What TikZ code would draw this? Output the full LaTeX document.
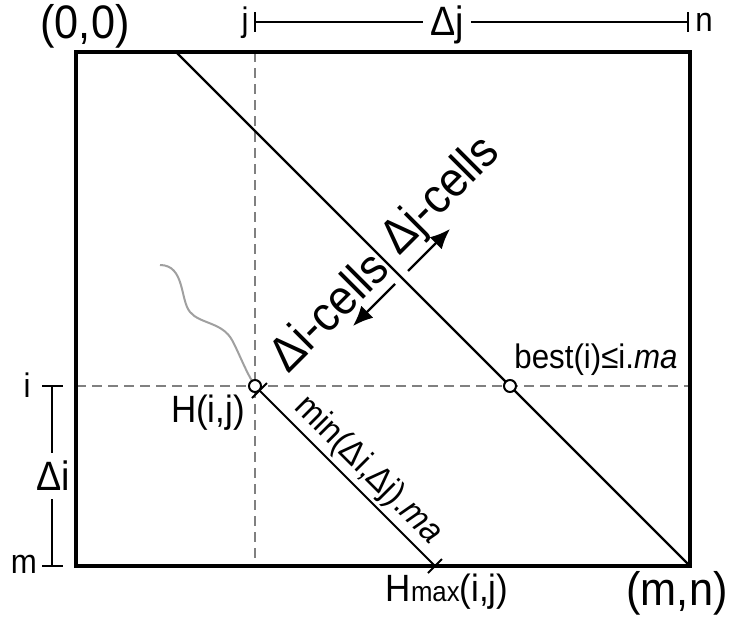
\documentclass[tikz,border=0pt]{standalone}
\usepackage{fontspec}
\setmainfont{Liberation Sans}[FakeStretch=0.92]
\usetikzlibrary{arrows.meta}
\newcommand{\fsz}[1]{\fontsize{#1}{#1}\selectfont}
\definecolor{guidegray}{RGB}{128,128,128}
\definecolor{wavegray}{RGB}{160,160,160}
\begin{document}
\begin{tikzpicture}[x=1pt,y=-1pt,
  border/.style={line width=3.2pt},
  diag/.style={line width=2.2pt},
  guide/.style={line width=2.4pt, draw=guidegray, dash pattern=on 10pt off 6pt},
  dim/.style={line width=2pt},
  wave/.style={line width=2pt, draw=wavegray},
  dot/.style={circle, draw, line width=2pt, fill=white, minimum size=12pt, inner sep=0pt},
  lbl/.style={inner sep=0pt, text=black},
  cellarrow/.style={line width=2.4pt, -{Latex[length=20pt,width=17pt]}},
]
\useasboundingbox (0,0) rectangle (732,621);

% corners and key points
\coordinate (TL) at (76,52);
\coordinate (BR) at (690,566);
\coordinate (d1) at (176,52);
\coordinate (H) at (255,386);
\coordinate (Hend) at (435,566);
\coordinate (B) at (510,386);
\coordinate (vtop) at (255,52);
\coordinate (vbot) at (255,558);
\coordinate (hl) at (76,386);
\coordinate (hr) at (690,386);

% dashed guides
\draw[guide] (vtop) -- (vbot);
\draw[guide] (hl) -- (hr);

% gray path
\coordinate (w0) at (160,265);
\draw[wave] (w0) .. controls (185,265) and (180,300) .. (190,312)
               .. controls (200,324) and (222,322) .. (232,340)
               .. controls (240,355) and (245,370) .. (H);

% main diagonal and frame
\draw[diag] (d1) -- (BR);
\draw[border] (TL) rectangle (BR);

% dimension segment from H(i,j)
\draw[dim] (H) -- (Hend)
  node[pos=0.55, sloped, above=3pt, lbl, font=\fsz{35}] (minlab) {min(Δi,Δj).\textit{ma}};
\coordinate (ts1) at (252,398);
\coordinate (ts2) at (267,383);
\draw[dim] (ts1) -- (ts2);
\coordinate (te1) at (428,573);
\coordinate (te2) at (442,559);
\draw[dim] (te1) -- (te2);

% cell arrows
\coordinate (au1) at (408,271);
\coordinate (au2) at (450,229);
\coordinate (ad1) at (395,284);
\coordinate (ad2) at (353,326);
\draw[cellarrow] (au1) -- (au2);
\draw[cellarrow] (ad1) -- (ad2);

% cell labels
\node[lbl, font=\fsz{49}, rotate=45, anchor=east] (dic) at (379,259) {Δi-cells};
\node[lbl, font=\fsz{49}, rotate=45, anchor=west] (djc) at (390,248) {Δj-cells};

% circles
\node[dot] (Hc) at (H) {};
\node[dot] (Bc) at (B) {};

% point labels
\node[lbl, font=\fsz{38}] (Hlab) at (208,413) {H(i,j)};
\node[lbl, font=\fsz{34}] (blab) at (596,360) {best(i)≤i.\textit{ma}};

% top dimension j..n
\node[lbl, font=\fsz{47}] (origin) at (85,26) {(0,0)};
\coordinate (jt) at (255,22);
\coordinate (nt) at (688,22);
\node[lbl, font=\fsz{34}] (jlab) at (245,23) {j};
\node[lbl, font=\fsz{34}] (nlab) at (704,22) {n};
\node[lbl, font=\fsz{41}, inner xsep=7pt] (dj) at (447,25) {Δj};
\draw[dim] (jt) -- (jt -| dj.west);
\draw[dim] (nt -| dj.east) -- (nt);
\draw[dim] (jt) ++(0,-10) -- ++(0,20);
\draw[dim] (nt) ++(0,-10) -- ++(0,20);

% left dimension i..m
\coordinate (it) at (52,386);
\coordinate (mt) at (52,566);
\node[lbl, font=\fsz{41}, inner ysep=8pt] (di) at (53,476) {Δi};
\draw[dim] (it) -- (it |- di.north);
\draw[dim] (mt |- di.south) -- (mt);
\draw[dim] (it) ++(-10,0) -- ++(21,0);
\draw[dim] (mt) ++(-10,0) -- ++(21,0);
\node[lbl, font=\fsz{34}] (ilab) at (27,385) {i};
\node[lbl, font=\fsz{34}] (mlab) at (24,564) {m};

% bottom labels
\node[lbl] (hmax) at (447,592) {\fsz{38}H\fsz{28}max\fsz{38}(i,j)};
\node[lbl, font=\fsz{47}] (mn) at (677,593) {(m,n)};
\end{tikzpicture}
\end{document}
